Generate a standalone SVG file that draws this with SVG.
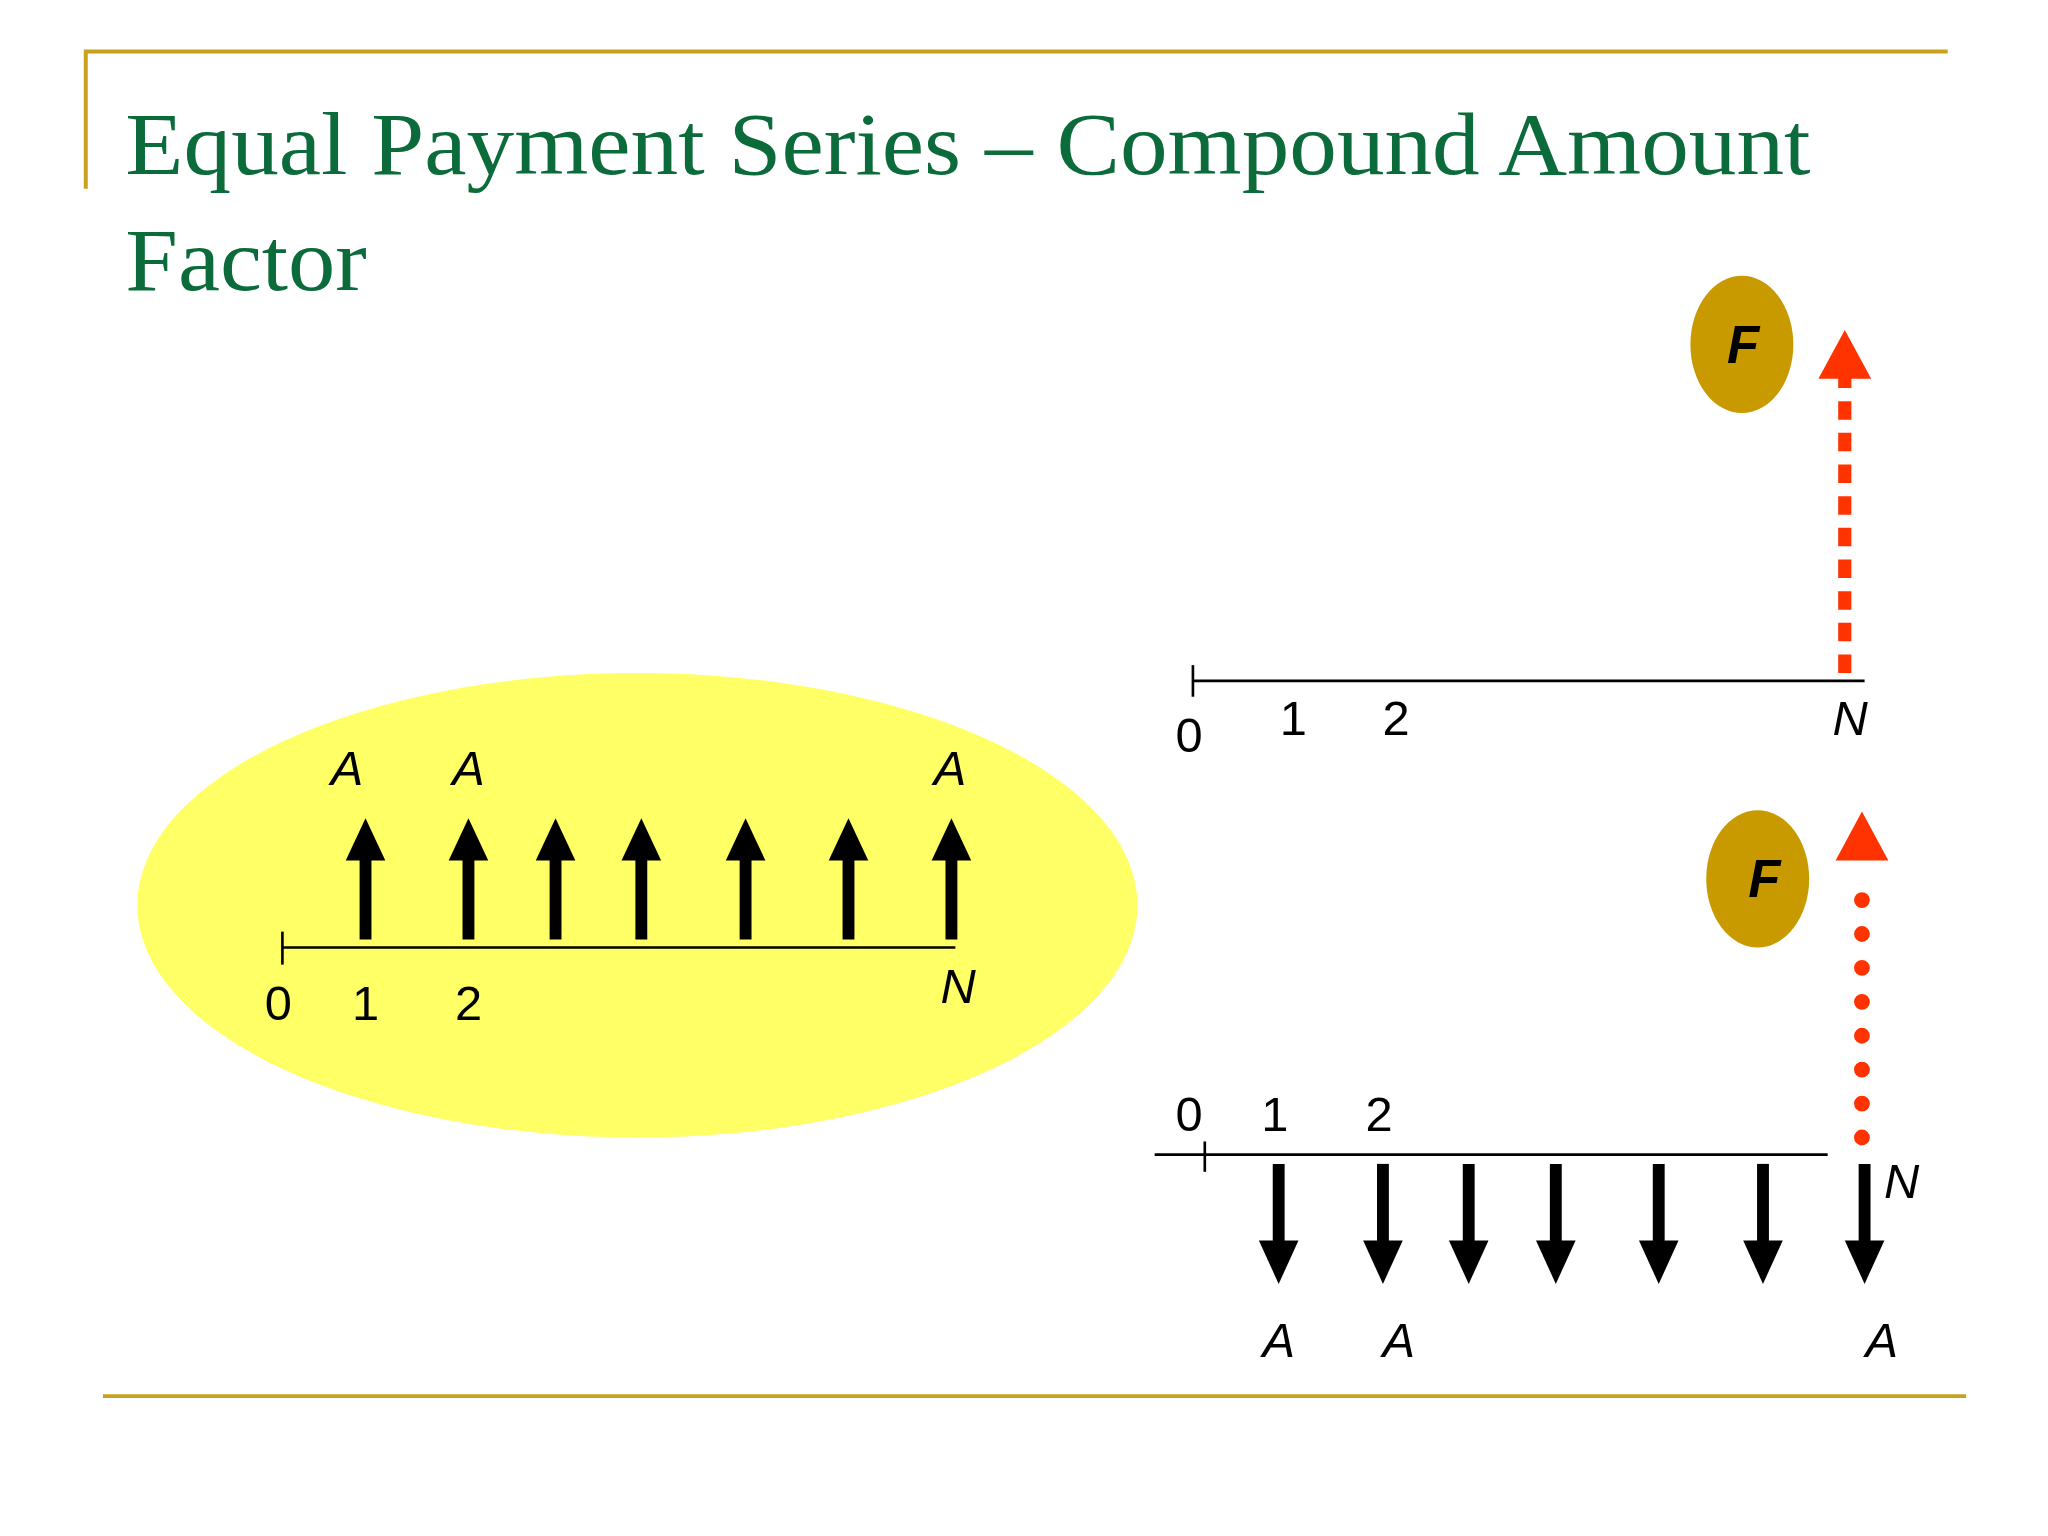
<svg xmlns="http://www.w3.org/2000/svg" width="2048" height="1536" viewBox="0 0 2048 1536">
<style>
.rule{stroke:#C9A11C;stroke-width:3;fill:none}
.title{font-family:"Liberation Serif",serif;font-size:68px;fill:#0B6B3A}
.lbl{font-family:"Liberation Sans",Arial,sans-serif;font-size:37px;fill:#000}
.it{font-style:italic}
.ax{stroke:#000;stroke-width:2;fill:none}
.shaft{stroke:#000;stroke-width:9}
.coin{fill:#C99A00}
.ft{font-family:"Liberation Sans",Arial,sans-serif;font-size:40px;font-weight:bold;font-style:italic;fill:#000}
.red{fill:#FF3300}
</style>
<defs>
<g id="up"><line class="shaft" x1="0" y1="712" x2="0" y2="648"/><polygon points="0,620 -15,652 15,652"/></g>
<g id="dn"><line class="shaft" x1="0" y1="882" x2="0" y2="945"/><polygon points="0,973 -15,940 15,940"/></g>
</defs>
<rect width="2048" height="1536" fill="#fff"/>
<g transform="scale(1.3196)">
<g id="frame">
<polyline class="rule" points="65,143 65,39 1476,39"/>
<line class="rule" x1="78" y1="1058" x2="1490" y2="1058"/>
</g>
<g id="title">
<text class="title" x="95" y="132" textLength="1277" lengthAdjust="spacingAndGlyphs">Equal Payment Series – Compound Amount</text>
<text class="title" x="95" y="220" textLength="183" lengthAdjust="spacingAndGlyphs">Factor</text>
</g>
<g id="left-diagram">
<ellipse cx="483" cy="686" rx="379" ry="176" fill="#FFFF66"/>
<line class="ax" x1="214" y1="718" x2="724" y2="718"/>
<line class="ax" x1="214" y1="706" x2="214" y2="731"/>
<g text-anchor="middle" class="lbl">
<text x="211" y="773">0</text><text x="277" y="773">1</text><text x="355" y="773">2</text>
<text class="it" x="726" y="760">N</text>
<text class="it" x="263" y="595">A</text><text class="it" x="355" y="595">A</text><text class="it" x="720" y="595">A</text>
</g>
<use href="#up" x="277"/><use href="#up" x="355"/><use href="#up" x="421"/><use href="#up" x="486"/><use href="#up" x="565"/><use href="#up" x="643"/><use href="#up" x="721"/>
</g>
<g id="top-right">
<line class="ax" x1="904" y1="516" x2="1413" y2="516"/>
<line class="ax" x1="904" y1="504" x2="904" y2="528"/>
<g text-anchor="middle" class="lbl">
<text x="901" y="570">0</text><text x="980" y="557">1</text><text x="1058" y="557">2</text>
<text class="it" x="1402" y="557">N</text>
</g>
<ellipse class="coin" cx="1320" cy="261" rx="39" ry="52"/>
<text class="ft" x="1321" y="275" text-anchor="middle">F</text>
<line x1="1398" y1="510" x2="1398" y2="285" stroke="#FF3300" stroke-width="10" stroke-dasharray="14 10"/>
<polygon class="red" points="1398,250 1378,287 1418,287"/>
</g>
<g id="bottom-right">
<line class="ax" x1="875" y1="875" x2="1385" y2="875"/>
<line class="ax" x1="913" y1="865" x2="913" y2="888"/>
<g text-anchor="middle" class="lbl">
<text x="901" y="857">0</text><text x="966" y="857">1</text><text x="1045" y="857">2</text>
<text class="it" x="1441" y="908">N</text>
<text class="it" x="969" y="1028">A</text><text class="it" x="1060" y="1028">A</text><text class="it" x="1426" y="1028">A</text>
</g>
<ellipse class="coin" cx="1332" cy="666" rx="39" ry="52"/>
<text class="ft" x="1337" y="680" text-anchor="middle">F</text>
<line x1="1411" y1="862" x2="1411" y2="670" stroke="#FF3300" stroke-width="12" stroke-linecap="round" stroke-dasharray="0 25.7"/>
<polygon class="red" points="1411,615 1391,652 1431,652"/>
<use href="#dn" x="969"/><use href="#dn" x="1048"/><use href="#dn" x="1113"/><use href="#dn" x="1179"/><use href="#dn" x="1257"/><use href="#dn" x="1336"/><use href="#dn" x="1413"/>
</g>
</g>
</svg>
